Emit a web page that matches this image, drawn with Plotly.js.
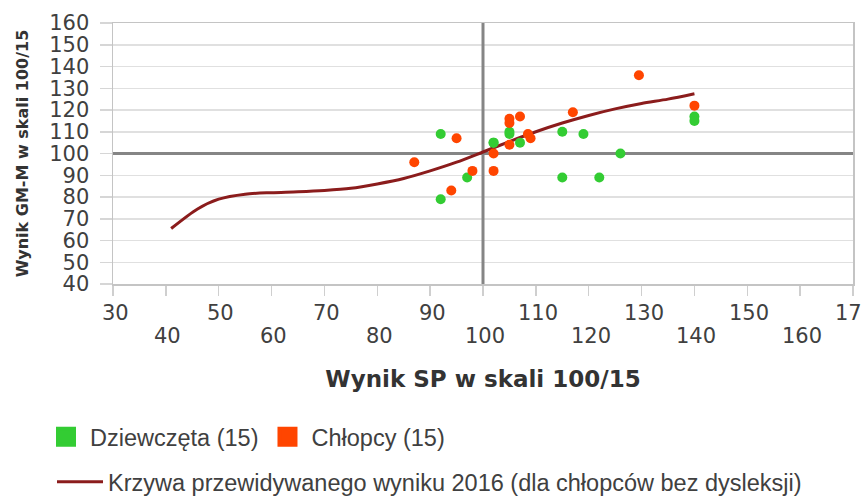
<!DOCTYPE html>
<html><head><meta charset="utf-8">
<script src="https://cdn.plot.ly/plotly-3.0.1.min.js"></script>
<style>html,body{margin:0;padding:0;background:#fff}#chart{width:861px;height:496px}</style>
</head><body><div id="chart"></div>
<script>
const girlsX = [92, 102, 105, 105, 107, 115, 119, 126, 97, 115, 122, 92, 140, 140, 102];
const girlsY = [109, 105, 109, 110, 105, 110, 109, 100, 89, 89, 89, 79, 117, 115, 105];
const boysX = [87, 95, 98, 94, 102, 102, 105, 105, 107, 105, 108.5, 109, 117, 140, 129.5];
const boysY = [96, 107, 92, 83, 100, 92, 116, 114, 117, 104, 109, 107, 119, 122, 136];
const curveX = [41, 46, 50, 55, 60, 65, 70, 75, 80, 85, 90, 95, 100, 105, 110, 115, 120, 125, 130, 135, 140];
const curveY = [65.5, 74.5, 79, 81.3, 82, 82.4, 83, 84, 86, 88.5, 92, 96, 100.7, 105.5, 110, 114, 117.5, 120.5, 123, 125, 127.5];
const xTicks = [30, 40, 50, 60, 70, 80, 90, 100, 110, 120, 130, 140, 150, 160, 170];
const xTickLabels = ['30', '40', '50', '60', '70', '80', '90', '100', '110', '120', '130', '140', '150', '160', '170'];
const yTicks = [40, 50, 60, 70, 80, 90, 100, 110, 120, 130, 140, 150, 160];
const refX = 100, refY = 100;
const girlsName = 'Dziewczęta (15)';
const boysName = 'Chłopcy (15)';
const curveName = 'Krzywa przewidywanego wyniku 2016 (dla chłopców bez dysleksji)';

const GREEN = '#33cc33', ORANGE = '#ff4500', CURVE = '#8b1c1c', REF = '#858585';
const xMin = xTicks[0], xMax = xTicks[xTicks.length - 1];
const yMin = yTicks[0], yMax = yTicks[yTicks.length - 1];

const traces = [
  {x: [refX, refX], y: [yMin, yMax], type: 'scatter', mode: 'lines', showlegend: false,
   line: {color: REF, width: 3}, hoverinfo: 'skip', cliponaxis: true},
  {x: [xMin, xMax], y: [refY, refY], type: 'scatter', mode: 'lines', showlegend: false,
   line: {color: REF, width: 3}, hoverinfo: 'skip', cliponaxis: true},
  {x: curveX, y: curveY, type: 'scatter', mode: 'lines', name: curveName,
   line: {color: CURVE, width: 3, shape: 'spline', smoothing: 0.8}, legend: 'legend2', hoverinfo: 'skip'},
  {x: girlsX, y: girlsY, type: 'scatter', mode: 'markers', name: girlsName, showlegend: false,
   marker: {color: GREEN, size: 10}},
  {x: boysX, y: boysY, type: 'scatter', mode: 'markers', name: boysName, showlegend: false,
   marker: {color: ORANGE, size: 10}},
  {x: [null], y: [null], type: 'scatter', mode: 'markers', name: girlsName, legend: 'legend',
   marker: {color: GREEN, size: 16, symbol: 'square', line: {color: GREEN, width: 4}}},
  {x: [null], y: [null], type: 'scatter', mode: 'markers', name: boysName, legend: 'legend',
   marker: {color: ORANGE, size: 16, symbol: 'square', line: {color: ORANGE, width: 4}}}
];

const annotations = xTicks.map((v, i) => ({
  x: v, y: 0, xref: 'x', yref: 'paper', yanchor: 'middle', xanchor: 'center',
  xshift: 2, yshift: (i % 2 === 0) ? -28.5 : -52, showarrow: false, text: xTickLabels[i],
  font: {family: 'DejaVu Sans', size: 21, color: '#404040'}
}));

const layout = {
  width: 861, height: 496,
  margin: {l: 113, r: 8, t: 23, b: 212},
  paper_bgcolor: '#ffffff', plot_bgcolor: '#ffffff',
  showlegend: true,
  xaxis: {
    range: [xMin, xMax], showgrid: false, zeroline: false,
    showline: true, mirror: true, linecolor: '#c4c4c4', linewidth: 1.5,
    ticks: 'outside', ticklen: 10, tickwidth: 1.5, tickcolor: '#cfcfcf',
    tickvals: xTicks, showticklabels: false,
    title: {text: 'Wynik SP w skali 100/15', standoff: 76,
            font: {family: 'DejaVu Sans', size: 23, weight: 'bold', color: '#333333'}}
  },
  yaxis: {
    range: [yMin, yMax], tickvals: yTicks, zeroline: false,
    showgrid: true, gridcolor: '#e0e0e0', gridwidth: 1.5,
    showline: true, mirror: true, linecolor: '#c4c4c4', linewidth: 1.5,
    ticks: 'outside', ticklen: 12, tickwidth: 1.5, tickcolor: '#d6d6d6',
    ticklabelstandoff: 6,
    tickfont: {family: 'DejaVu Sans', size: 21, color: '#404040'},
    title: {text: 'Wynik GM-M w skali 100/15', standoff: 16,
            font: {family: 'DejaVu Sans', size: 16, weight: 'bold', color: '#333333'}}
  },
  annotations: annotations,
  legend: {
    orientation: 'h', xref: 'container', yref: 'container',
    x: 42 / 861, xanchor: 'left', y: 1 - 437 / 496, yanchor: 'middle',
    font: {family: 'Liberation Sans', size: 23.5, color: '#404040'},
    itemwidth: 38, bgcolor: 'rgba(0,0,0,0)', borderwidth: 0, itemclick: false, itemdoubleclick: false
  },
  legend2: {
    orientation: 'h', xref: 'container', yref: 'container',
    x: 52 / 861, xanchor: 'left', y: 1 - 482 / 496, yanchor: 'middle',
    font: {family: 'Liberation Sans', size: 23.5, color: '#404040'},
    itemwidth: 46, bgcolor: 'rgba(0,0,0,0)', borderwidth: 0, itemclick: false, itemdoubleclick: false
  }
};

Plotly.newPlot('chart', traces, layout, {displayModeBar: false, staticPlot: true});
</script>
</body></html>
